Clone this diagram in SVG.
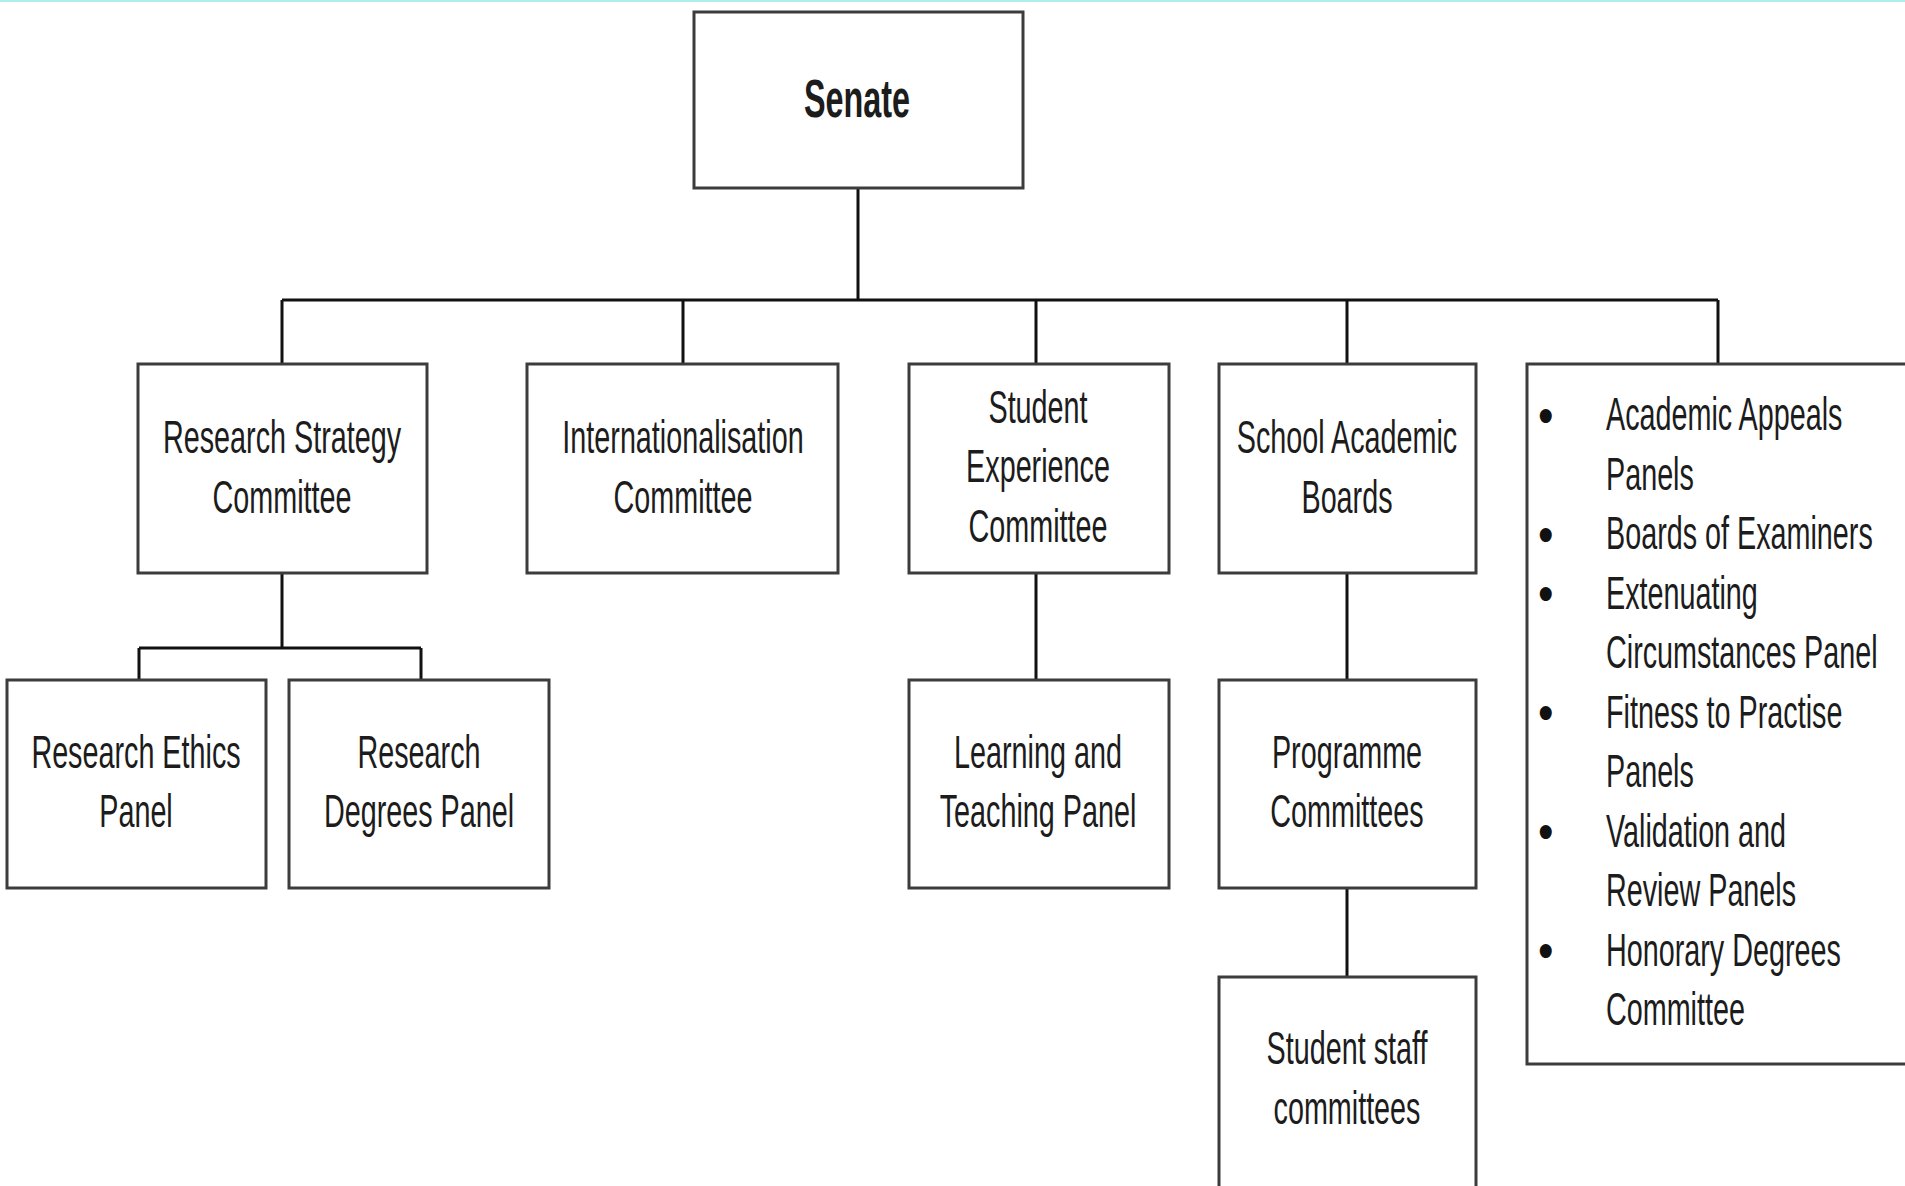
<svg xmlns="http://www.w3.org/2000/svg" width="1905" height="1186" viewBox="0 0 1905 1186">
<style>
.box{fill:#ffffff;stroke:#3c3c3c;stroke-width:3}
.conn{stroke:#111111;stroke-width:3;fill:none}
.t{font-family:"Liberation Sans",Arial,sans-serif;font-size:46px;fill:#1c1c1c;text-anchor:middle}
.b{font-weight:bold;font-size:54px}
.l{text-anchor:start}
.bul{font-family:"Liberation Sans",Arial,sans-serif;font-size:52px;fill:#111111}
</style>
<rect x="0" y="0" width="1905" height="1186" fill="#ffffff"/>
<rect x="0" y="0" width="1905" height="2" fill="#b0eeee"/>
<g id="connectors">
<path class="conn" d="M858 188V300M282 300H1718M282 300V364M683 300V364M1036 300V364M1347 300V364M1718 300V364"/>
<path class="conn" d="M282 573V648M139 648H421M139 648V680M421 648V680"/>
<path class="conn" d="M1036 573V680M1347 573V680M1347 888V977"/>
</g>
<g id="senate">
<rect class="box" x="694" y="12" width="329" height="176"/>
<text class="t b" transform="translate(857 117) scale(0.6 1)">Senate</text>
</g>
<g id="research-strategy">
<rect class="box" x="138" y="364" width="289" height="209"/>
<text class="t" transform="translate(282 453) scale(0.625 1)">Research Strategy</text>
<text class="t" transform="translate(282 513) scale(0.625 1)">Committee</text>
</g>
<g id="internationalisation">
<rect class="box" x="527" y="364" width="311" height="209"/>
<text class="t" transform="translate(683 453) scale(0.625 1)">Internationalisation</text>
<text class="t" transform="translate(683 513) scale(0.625 1)">Committee</text>
</g>
<g id="student-experience">
<rect class="box" x="909" y="364" width="260" height="209"/>
<text class="t" transform="translate(1038 423) scale(0.625 1)">Student</text>
<text class="t" transform="translate(1038 482) scale(0.625 1)">Experience</text>
<text class="t" transform="translate(1038 542) scale(0.625 1)">Committee</text>
</g>
<g id="school-academic">
<rect class="box" x="1219" y="364" width="257" height="209"/>
<text class="t" transform="translate(1347 453) scale(0.625 1)">School Academic</text>
<text class="t" transform="translate(1347 513) scale(0.625 1)">Boards</text>
</g>
<g id="other-panels">
<rect class="box" x="1527" y="364" width="420" height="700"/>
<text class="bul" transform="translate(1538 433) scale(0.85 1)">•</text>
<text class="bul" transform="translate(1538 552) scale(0.85 1)">•</text>
<text class="bul" transform="translate(1538 611) scale(0.85 1)">•</text>
<text class="bul" transform="translate(1538 730) scale(0.85 1)">•</text>
<text class="bul" transform="translate(1538 849) scale(0.85 1)">•</text>
<text class="bul" transform="translate(1538 968) scale(0.85 1)">•</text>
<text class="t l" transform="translate(1606 430) scale(0.625 1)">Academic Appeals</text>
<text class="t l" transform="translate(1606 489.5) scale(0.625 1)">Panels</text>
<text class="t l" transform="translate(1606 549) scale(0.625 1)">Boards of Examiners</text>
<text class="t l" transform="translate(1606 608.5) scale(0.625 1)">Extenuating</text>
<text class="t l" transform="translate(1606 668) scale(0.625 1)">Circumstances Panel</text>
<text class="t l" transform="translate(1606 727.5) scale(0.625 1)">Fitness to Practise</text>
<text class="t l" transform="translate(1606 787) scale(0.625 1)">Panels</text>
<text class="t l" transform="translate(1606 846.5) scale(0.625 1)">Validation and</text>
<text class="t l" transform="translate(1606 906) scale(0.625 1)">Review Panels</text>
<text class="t l" transform="translate(1606 965.5) scale(0.625 1)">Honorary Degrees</text>
<text class="t l" transform="translate(1606 1025) scale(0.625 1)">Committee</text>
</g>
<g id="research-ethics">
<rect class="box" x="7" y="680" width="259" height="208"/>
<text class="t" transform="translate(136 768) scale(0.625 1)">Research Ethics</text>
<text class="t" transform="translate(136 827) scale(0.625 1)">Panel</text>
</g>
<g id="research-degrees">
<rect class="box" x="289" y="680" width="260" height="208"/>
<text class="t" transform="translate(419 768) scale(0.625 1)">Research</text>
<text class="t" transform="translate(419 827) scale(0.625 1)">Degrees Panel</text>
</g>
<g id="learning-teaching">
<rect class="box" x="909" y="680" width="260" height="208"/>
<text class="t" transform="translate(1038 768) scale(0.625 1)">Learning and</text>
<text class="t" transform="translate(1038 827) scale(0.625 1)">Teaching Panel</text>
</g>
<g id="programme-committees">
<rect class="box" x="1219" y="680" width="257" height="208"/>
<text class="t" transform="translate(1347 768) scale(0.625 1)">Programme</text>
<text class="t" transform="translate(1347 827) scale(0.625 1)">Committees</text>
</g>
<g id="student-staff">
<rect class="box" x="1219" y="977" width="257" height="260"/>
<text class="t" transform="translate(1347 1064) scale(0.625 1)">Student staff</text>
<text class="t" transform="translate(1347 1124) scale(0.625 1)">committees</text>
</g>
</svg>
